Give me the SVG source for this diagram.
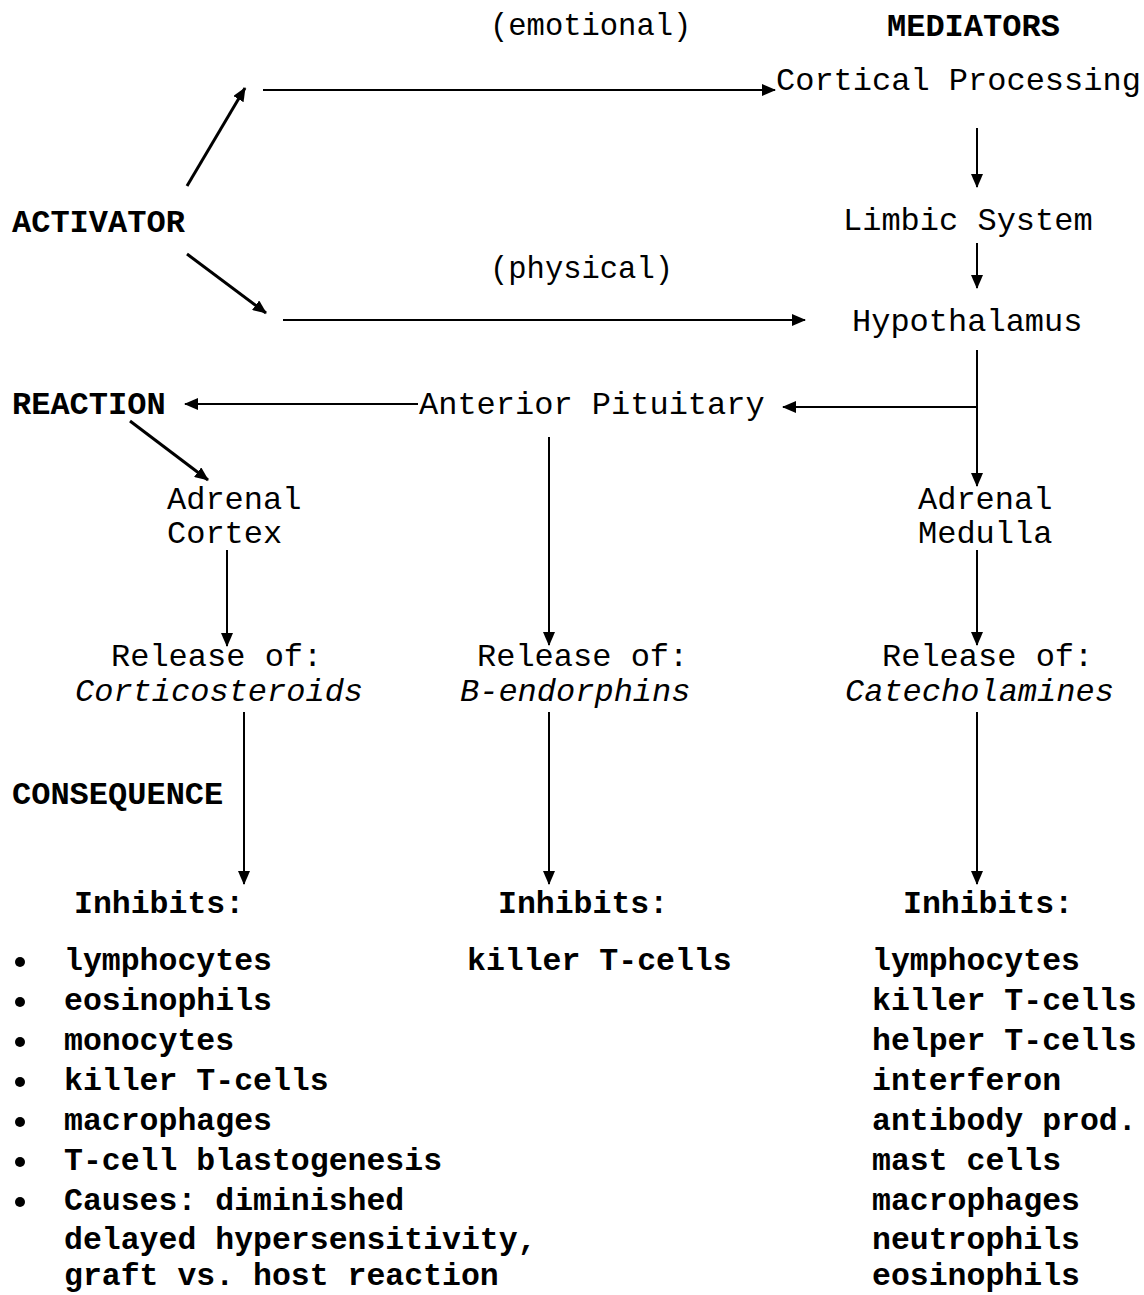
<svg xmlns="http://www.w3.org/2000/svg" width="1144" height="1295" viewBox="0 0 1144 1295">
<defs>
<marker id="ah" markerUnits="userSpaceOnUse" markerWidth="14" markerHeight="12" refX="13" refY="6" orient="auto">
<path d="M0,0 L14,6 L0,12 z" fill="#000"/>
</marker>
<style>
text{font-family:"Liberation Mono","Courier New",monospace;fill:#000}
.n{font-size:32px}
.p{font-size:30.5px}
.h{font-size:32px;font-weight:bold}
.i{font-size:32px;font-style:italic}
.b{font-size:31.5px;font-weight:bold}
.c{stroke:#000;stroke-width:2;fill:none;marker-end:url(#ah)}
.d{stroke:#000;stroke-width:3;fill:none;marker-end:url(#ah)}
</style>
</defs>
<rect width="1144" height="1295" fill="#fff"/>

<g id="connectors">
<line class="d" x1="187" y1="186" x2="245" y2="88"/>
<line class="d" x1="187" y1="254" x2="266" y2="313"/>
<line class="c" x1="263" y1="90" x2="775" y2="90"/>
<line class="c" x1="283" y1="320" x2="805" y2="320"/>
<line class="c" x1="977" y1="128" x2="977" y2="187"/>
<line class="c" x1="977" y1="243" x2="977" y2="288"/>
<line class="c" x1="977" y1="350" x2="977" y2="486"/>
<polyline class="c" points="977,407 783,407"/>
<line class="c" x1="418" y1="404" x2="185" y2="404"/>
<line class="d" x1="130" y1="421" x2="208" y2="480"/>
<line class="c" x1="227" y1="550" x2="227" y2="646"/>
<line class="c" x1="549" y1="437" x2="549" y2="645"/>
<line class="c" x1="977" y1="550" x2="977" y2="645"/>
<line class="c" x1="244" y1="712" x2="244" y2="884"/>
<line class="c" x1="549" y1="712" x2="549" y2="884"/>
<line class="c" x1="977" y1="712" x2="977" y2="884"/>
</g>

<g id="label-emotional"><text class="p" x="490" y="35">(emotional)</text></g>
<g id="label-physical"><text class="p" x="490" y="278">(physical)</text></g>
<g id="heading-mediators"><text class="h" x="887" y="36">MEDIATORS</text></g>
<g id="heading-activator"><text class="h" x="12" y="232">ACTIVATOR</text></g>
<g id="heading-reaction"><text class="h" x="12" y="414">REACTION</text></g>
<g id="heading-consequence"><text class="h" x="12" y="804">CONSEQUENCE</text></g>

<g id="cortical"><text class="n" x="776" y="90">Cortical Processing</text></g>
<g id="limbic"><text class="n" x="843" y="230">Limbic System</text></g>
<g id="hypothalamus"><text class="n" x="852" y="331">Hypothalamus</text></g>
<g id="anterior-pituitary"><text class="n" x="419" y="414">Anterior Pituitary</text></g>

<g id="adrenal-cortex"><text class="n" x="167" y="509">Adrenal</text><text class="n" x="167" y="543">Cortex</text></g>
<g id="adrenal-medulla"><text class="n" x="918" y="509">Adrenal</text><text class="n" x="918" y="543">Medulla</text></g>

<g id="release-corticosteroids"><text class="n" x="111" y="666">Release of:</text><text class="i" x="75" y="701">Corticosteroids</text></g>
<g id="release-endorphins"><text class="n" x="477" y="666">Release of:</text><text class="i" x="460" y="701">B-endorphins</text></g>
<g id="release-catecholamines"><text class="n" x="882" y="666">Release of:</text><text class="i" x="845" y="701">Catecholamines</text></g>

<g id="inhibits-left">
<text class="b" x="74" y="913">Inhibits:</text>
<g fill="#000">
<circle cx="20" cy="962" r="5"/><circle cx="20" cy="1002" r="5"/><circle cx="20" cy="1042" r="5"/><circle cx="20" cy="1082" r="5"/><circle cx="20" cy="1122" r="5"/><circle cx="20" cy="1162" r="5"/><circle cx="20" cy="1202" r="5"/>
</g>
<text class="b" x="64" y="970">lymphocytes</text>
<text class="b" x="64" y="1010">eosinophils</text>
<text class="b" x="64" y="1050">monocytes</text>
<text class="b" x="64" y="1090">killer T-cells</text>
<text class="b" x="64" y="1130">macrophages</text>
<text class="b" x="64" y="1170">T-cell blastogenesis</text>
<text class="b" x="64" y="1210">Causes: diminished</text>
<text class="b" x="64" y="1249">delayed hypersensitivity,</text>
<text class="b" x="64" y="1285">graft vs. host reaction</text>
</g>

<g id="inhibits-center">
<text class="b" x="498" y="913">Inhibits:</text>
<text class="b" x="467" y="970">killer T-cells</text>
</g>

<g id="inhibits-right">
<text class="b" x="903" y="913">Inhibits:</text>
<text class="b" x="872" y="970">lymphocytes</text>
<text class="b" x="872" y="1010">killer T-cells</text>
<text class="b" x="872" y="1050">helper T-cells</text>
<text class="b" x="872" y="1090">interferon</text>
<text class="b" x="872" y="1130">antibody prod.</text>
<text class="b" x="872" y="1170">mast cells</text>
<text class="b" x="872" y="1210">macrophages</text>
<text class="b" x="872" y="1249">neutrophils</text>
<text class="b" x="872" y="1285">eosinophils</text>
</g>
</svg>
